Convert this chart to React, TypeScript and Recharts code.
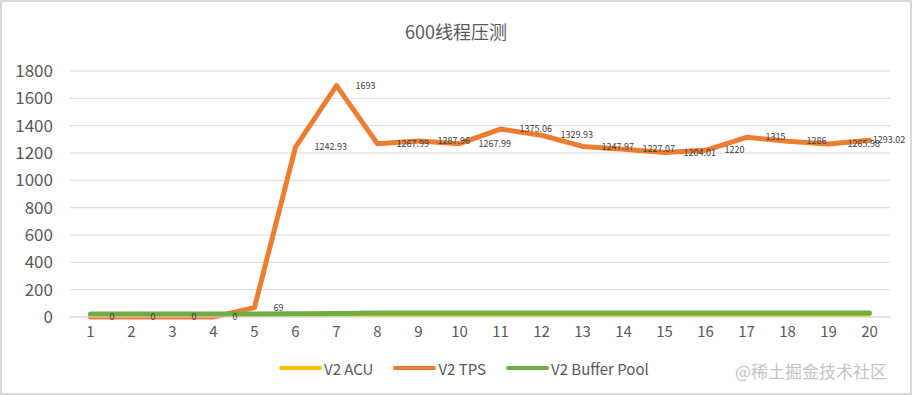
import React from 'react';
import { LineChart, Line, XAxis, YAxis, CartesianGrid, LabelList } from 'recharts';

const categories = ['1','2','3','4','5','6','7','8','9','10','11','12','13','14','15','16','17','18','19','20'];
const acu = [12,12,12,12,12,12,12,12,12,12,12,12,12,12,12,12,12,12,12,12];
const tps = [0,0,0,0,69,1242.93,1693,1267.99,1287.96,1267.99,1375.06,1329.93,1247.97,1227.07,1204.01,1220,1315,1286,1265.98,1293.02];
const bufferPool = [22,22,22,22,22,24,25,30,30,30,30,30,30,30,30,30,30,30,30,30];
const yTicks = [0,200,400,600,800,1000,1200,1400,1600,1800];
const seriesNames = ['V2 ACU','V2 TPS','V2 Buffer Pool'];
const seriesColors = ['#FFC000','#ED7D31','#70AD47'];
const title = '600线程压测';
const watermark = '@稀土掘金技术社区';

const data = categories.map((c, i) => ({ cat: c, acu: acu[i], tps: tps[i], bp: bufferPool[i] }));

const FONT = '"Noto Sans CJK SC", "Noto Sans", sans-serif';

const TpsLabel = (props: any) => {
  const { x, y, value } = props;
  const s = String(value);
  let tx = x + 19;
  const w = s.length * 4.6;
  if (tx + w > 905) tx = 905 - w;
  return (
    <text x={tx} y={y} dy="0.35em" fontSize={9} fill="#404040" fontFamily={FONT} textAnchor="start">{s}</text>
  );
};

export default function App() {
  return (
    <div style={{ position: 'absolute', left: 0, top: 0, width: 912, height: 395, background: '#fff', fontFamily: FONT }}>
      <div style={{ position: 'absolute', left: 0, top: 0, width: 912, height: 395, boxSizing: 'border-box', border: '2px solid #d9d9d9', pointerEvents: 'none', zIndex: 2 }} />
      <div style={{ position: 'absolute', left: 0, top: 19, width: 912, textAlign: 'center', fontSize: 18, color: '#595959', lineHeight: '24px' }}>{title}</div>
      <LineChart width={912} height={395} data={data} margin={{ top: 71, right: 22, bottom: 48, left: 0 }}>
        <CartesianGrid horizontal={true} vertical={false} stroke="#d9d9d9" strokeWidth={1} />
        <XAxis dataKey="cat" height={30} padding={{ left: 20.5, right: 20.5 }} axisLine={{ stroke: '#d9d9d9' }} tickLine={false}
          tick={{ fontSize: 15, fill: '#595959', fontFamily: FONT }} tickMargin={3} interval={0} />
        <YAxis width={70} domain={[0, 1800]} ticks={yTicks} interval={0} axisLine={false} tickLine={false}
          tick={{ fontSize: 17, fill: '#595959', fontFamily: FONT }} tickMargin={11} />
        <Line dataKey="acu" stroke={seriesColors[0]} strokeWidth={3} dot={false} isAnimationActive={false} strokeLinecap="round" strokeLinejoin="round" />
        <Line dataKey="tps" stroke={seriesColors[1]} strokeWidth={5} dot={false} isAnimationActive={false} strokeLinecap="round" strokeLinejoin="round">
          <LabelList dataKey="tps" content={TpsLabel} />
        </Line>
        <Line dataKey="bp" stroke={seriesColors[2]} strokeWidth={5} dot={false} isAnimationActive={false} strokeLinecap="round" strokeLinejoin="round" />
      </LineChart>
      <div style={{ position: 'absolute', left: 279, top: 357, height: 22, display: 'flex', alignItems: 'center' }}>
        {seriesNames.map((n, i) => (
          <div key={n} style={{ display: 'flex', alignItems: 'center', marginRight: 20 }}>
            <div style={{ width: 43, height: 4, borderRadius: 2, background: seriesColors[i] }} />
            <span style={{ fontSize: 15, color: '#595959', marginLeft: 2 }}>{n}</span>
          </div>
        ))}
      </div>
      <div style={{ position: 'absolute', left: 735, top: 359, fontSize: 17, color: '#c4c4c4', lineHeight: '24px' }}>{watermark}</div>
    </div>
  );
}
